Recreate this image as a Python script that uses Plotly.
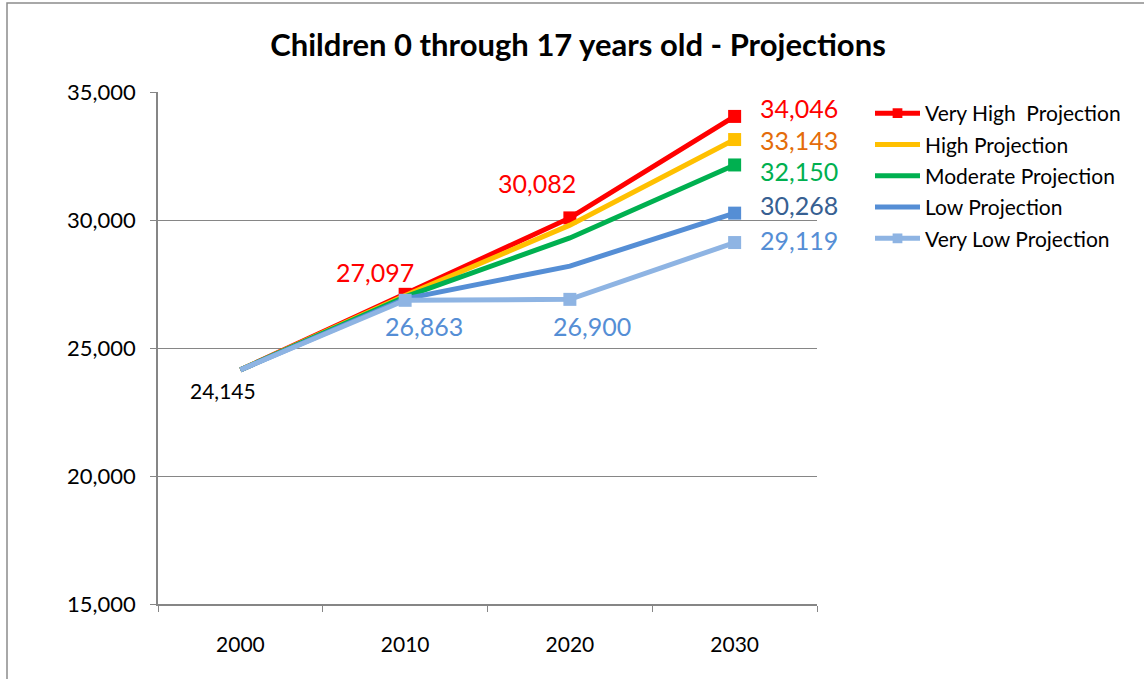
import plotly.graph_objects as go

years = ["2000", "2010", "2020", "2030"]
series_names = ["Very High  Projection", "High Projection", "Moderate Projection", "Low Projection", "Very Low Projection"]
very_high = [24145, 27097, 30082, 34046]
high = [24145, 27050, 29800, 33143]
moderate = [24145, 27000, 29300, 32150]
low = [24145, 26920, 28200, 30268]
very_low = [24145, 26863, 26900, 29119]
y_ticks = [15000, 20000, 25000, 30000, 35000]

line_colors = ["#FF0000", "#FFC000", "#00B050", "#558ED5", "#8EB4E3"]
all_series = [very_high, high, moderate, low, very_low]
# which points carry a square marker
marker_points = [[1, 2, 3], [3], [3], [3], [1, 2, 3]]
legend_markers = [True, False, False, False, True]

FONT = "Lato"
fig = go.Figure()

for i, (name, vals, col) in enumerate(zip(series_names, all_series, line_colors)):
    fig.add_trace(go.Scatter(
        x=years, y=vals, name=name, mode="lines+markers" if legend_markers[i] else "lines",
        line=dict(color=col, width=5),
        marker=dict(symbol="square", size=[13 if k in marker_points[i] else 0 for k in range(len(years))],
                    color=col, opacity=1, line=dict(width=0)),
        legendgroup=f"g{i}",
    ))
    if not legend_markers[i]:
        idx = marker_points[i]
        fig.add_trace(go.Scatter(
            x=[years[k] for k in idx], y=[vals[k] for k in idx], mode="markers",
            marker=dict(symbol="square", size=13, color=col, opacity=1, line=dict(width=0)),
            showlegend=False, legendgroup=f"g{i}", hoverinfo="skip",
        ))

# data labels: (series values, point index, color, xshift, yshift, xanchor, size)
labels = [
    (very_low, 0, "#000000", -17, -21, "center", 21),
    (very_high, 1, "#FF0000", -30, 22, "center", 25),
    (very_low, 1, "#558ED5", 19, -26, "center", 25),
    (very_high, 2, "#FF0000", -33, 35, "center", 25),
    (very_low, 2, "#558ED5", 22, -27, "center", 25),
    (very_high, 3, "#FF0000", 23, 8, "left", 25),
    (high, 3, "#E46C0A", 23, 0, "left", 25),
    (moderate, 3, "#00B050", 23, -6, "left", 25),
    (low, 3, "#376092", 23, 8, "left", 25),
    (very_low, 3, "#558ED5", 23, 3, "left", 25),
]
for vals, k, col, xs, ys, xa, fs in labels:
    fig.add_annotation(x=k, y=vals[k], xref="x", yref="y", text=f"{vals[k]:,}",
                       showarrow=False, xshift=xs, yshift=ys, xanchor=xa, yanchor="middle",
                       font=dict(family=FONT, size=fs, color=col))

L, R, T, B = 158, 1144 - 817, 92, 679 - 604
W, H = 1144, 679
pw, ph = W - L - R, H - T - B
fig.add_shape(type="rect", xref="paper", yref="paper",
              x0=(7 - L) / pw, x1=(1160 - L) / pw, y0=(H - B - 700) / ph, y1=(H - B - 3) / ph,
              line=dict(color="#8C8C8C", width=1.5), fillcolor="rgba(0,0,0,0)", layer="below")

fig.update_layout(
    width=W, height=H,
    margin=dict(l=L, r=R, t=T, b=B, autoexpand=False),
    paper_bgcolor="white", plot_bgcolor="white",
    title=dict(text="<b>Children 0 through 17 years old - Projections</b>", x=(578) / W, xanchor="center",
               y=1 - 45 / H, yanchor="middle", font=dict(family=FONT, size=31, color="#000000")),
    font=dict(family=FONT, color="#000000"),
    legend=dict(x=(870 - L) / pw, y=(H - B - 93) / ph, xanchor="left", yanchor="top",
                font=dict(family=FONT, size=21, color="#000000"), traceorder="grouped",
                tracegroupgap=1, bgcolor="rgba(0,0,0,0)", itemwidth=45),
    showlegend=True,
    hovermode=False,
)
fig.update_xaxes(type="category", categoryorder="array", categoryarray=years, range=[-0.5, 3.5],
                 showgrid=False, showline=True, linecolor="#868686", linewidth=1.5,
                 ticks="outside", tickson="boundaries", ticklen=6, tickcolor="#868686", tickangle=0,
                 tickfont=dict(family=FONT, size=21, color="#000000"), ticklabelstandoff=21, automargin=False)
fig.update_yaxes(range=[15000, 35000], tickvals=y_ticks, tickformat=",", showgrid=True,
                 gridcolor="#868686", gridwidth=1, showline=True, linecolor="#868686", linewidth=1.5,
                 ticks="outside", ticklen=6, tickcolor="#868686", zeroline=False, ticklabelstandoff=10,
                 tickfont=dict(family=FONT, size=22, color="#000000"), automargin=False)

fig.write_html("out.html")
